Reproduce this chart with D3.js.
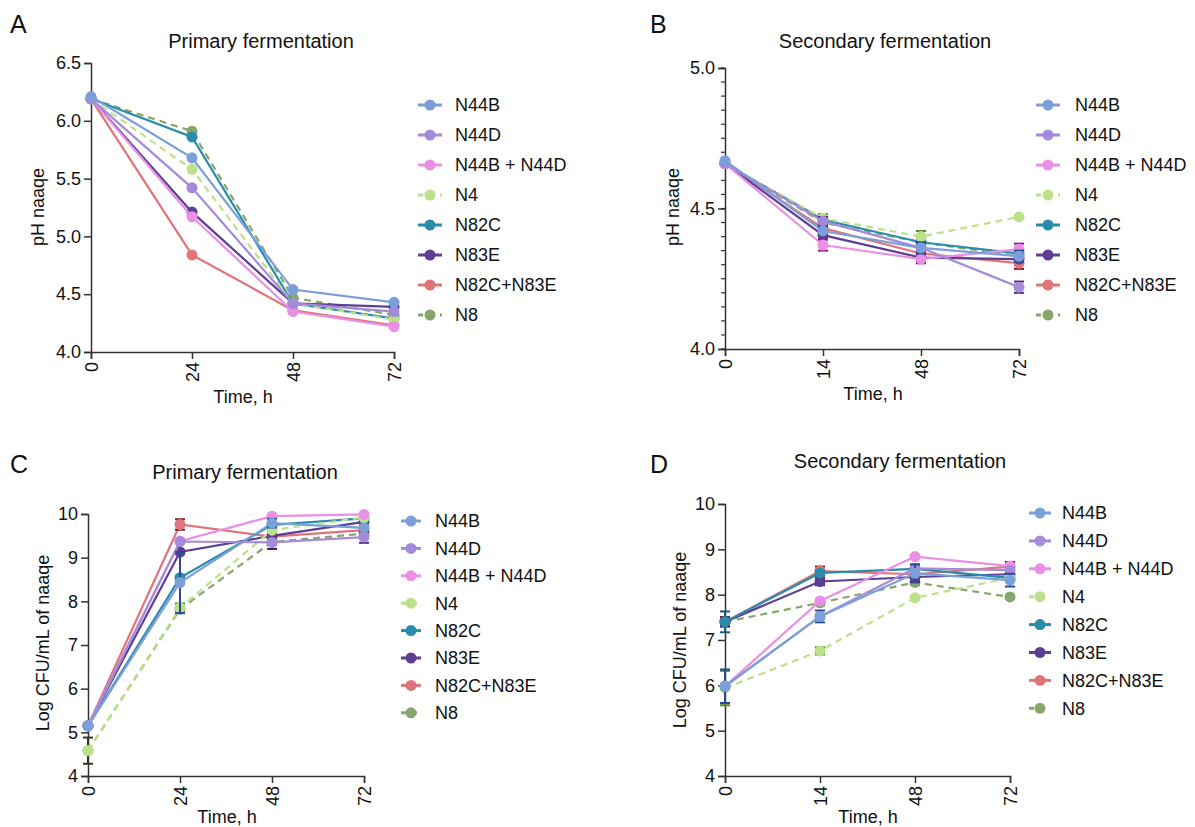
<!DOCTYPE html>
<html>
<head>
<meta charset="utf-8">
<script src="https://cdn.jsdelivr.net/npm/d3@7"></script>
<style>
body { margin: 0; background: #fff; }
text { font-family: "Liberation Sans", Arial, sans-serif; fill: #111; }
</style>
</head>
<body>
<div id="chart"></div>
<script>

// ---- data ----
const series = ['N44B', 'N44D', 'N44B + N44D', 'N4', 'N82C', 'N83E', 'N82C+N83E', 'N8']
const lineColor = ['#7b9fd8', '#a48bd9', '#e98fe6', '#bde08a', '#2b8bab', '#5c3f93', '#e07479', '#87a66b']
const errColor = ['#2a4b94', '#4a2a8c', '#8e1a8c', '#4f8c2a', '#1a5a7a', '#3a1a6a', '#8c1a2a', '#333322']
const isDashed = [false, false, false, true, false, false, false, true]

const hoursPrimary = ['0', '24', '48', '72']
const hoursSecondary = ['0', '14', '48', '72']

const phPrimary = [
    [6.21, 5.68, 4.54, 4.43],
    [6.19, 5.42, 4.42, 4.35],
    [6.19, 5.17, 4.35, 4.22],
    [6.19, 5.58, 4.42, 4.28],
    [6.19, 5.86, 4.42, 4.29],
    [6.19, 5.21, 4.42, 4.39],
    [6.19, 4.84, 4.36, 4.23],
    [6.19, 5.91, 4.47, 4.32]
]
const phPrimaryErr = [
    [0, 0, 0, 0], [0, 0, 0, 0], [0, 0, 0, 0], [0, 0, 0, 0],
    [0, 0, 0, 0], [0, 0, 0, 0], [0, 0, 0, 0], [0, 0, 0, 0]
]

const phSecondary = [
    [4.67, 4.42, 4.36, 4.33],
    [4.66, 4.455, 4.36, 4.22],
    [4.66, 4.37, 4.32, 4.355],
    [4.66, 4.465, 4.40, 4.47],
    [4.66, 4.46, 4.38, 4.34],
    [4.66, 4.405, 4.325, 4.32],
    [4.66, 4.43, 4.34, 4.305],
    [4.66, 4.45, 4.38, 4.33]
]
const phSecondaryErr = [
    [0, 0.015, 0.02, 0.02],
    [0, 0.015, 0.01, 0.02],
    [0, 0.02, 0.015, 0.02],
    [0, 0.015, 0.02, 0],
    [0, 0.01, 0.01, 0.015],
    [0, 0.015, 0.015, 0.01],
    [0, 0.01, 0.01, 0.02],
    [0, 0.01, 0.01, 0.01]
]

const cfuPrimary = [
    [5.15, 8.43, 9.79, 9.68],
    [5.15, 9.37, 9.35, 9.47],
    [5.15, 9.38, 9.95, 9.99],
    [4.58, 7.85, 9.63, 9.92],
    [5.15, 8.54, 9.75, 9.90],
    [5.15, 9.13, 9.50, 9.82],
    [5.15, 9.76, 9.48, 9.63],
    [4.58, 7.82, 9.36, 9.55]
]
const cfuPrimaryErr = [
    [0, 0.7, 0.1, 0.05],
    [0, 0.03, 0.05, 0.13],
    [0, 0.02, 0.02, 0.02],
    [0, 0.1, 0.05, 0.03],
    [0, 0.05, 0.05, 0.05],
    [0, 0.05, 0.3, 0.1],
    [0, 0.12, 0.05, 0.05],
    [0.3, 0.05, 0.05, 0.05]
]

const cfuSecondary = [
    [5.98, 7.52, 8.47, 8.32],
    [5.98, 7.52, 8.58, 8.54],
    [5.98, 7.86, 8.84, 8.63],
    [5.94, 6.76, 7.93, 8.37],
    [7.40, 8.48, 8.57, 8.37],
    [7.40, 8.29, 8.39, 8.45],
    [7.40, 8.52, 8.45, 8.62],
    [7.40, 7.82, 8.27, 7.95]
]
const cfuSecondaryErr = [
    [0.37, 0.13, 0.2, 0.14],
    [0.05, 0.05, 0.05, 0.05],
    [0.02, 0.02, 0.02, 0.05],
    [0.38, 0.08, 0.03, 0.03],
    [0.23, 0.05, 0.05, 0.05],
    [0.1, 0.08, 0.1, 0.1],
    [0.1, 0.1, 0.05, 0.1],
    [0.05, 0.05, 0.05, 0.03]
]

// ---- layout ----
const width = 1195
const height = 827

const svg = d3.select('#chart')
    .append('svg')
    .attr('width', width)
    .attr('height', height)

const panels = [
    { letter: 'A', lx: 10, ly: 33, title: 'Primary fermentation', tx: 261, ty: 48,
      hours: hoursPrimary, values: phPrimary, errs: phPrimaryErr,
      x0: 91, x1: 394, y0: 352, y1: 63, dom: [4, 6.5], ticks: d3.range(4, 6.51, 0.5), fmt: '.1f', minor: null,
      ylab: 'pH naaqe', ylx: 38, yly: 207, xlx: 243, xly: 403,
      legX: 418, legY: 105, legStep: 30, legLen: 24, legText: 455 },
    { letter: 'B', lx: 650, ly: 33, title: 'Secondary fermentation', tx: 885, ty: 48,
      hours: hoursSecondary, values: phSecondary, errs: phSecondaryErr,
      x0: 725, x1: 1019, y0: 349, y1: 68, dom: [4, 5], ticks: [4, 4.5, 5], fmt: '.1f', minor: d3.range(4, 5.001, 0.05),
      ylab: 'pH naaqe', ylx: 673, yly: 207, xlx: 873, xly: 400,
      legX: 1036, legY: 105, legStep: 30, legLen: 24, legText: 1075 },
    { letter: 'C', lx: 10, ly: 473, title: 'Primary fermentation', tx: 245, ty: 479,
      hours: hoursPrimary, values: cfuPrimary, errs: cfuPrimaryErr,
      x0: 88, x1: 364, y0: 776, y1: 514, dom: [4, 10], ticks: d3.range(4, 11, 1), fmt: 'd', minor: null,
      ylab: 'Log CFU/mL of naaqe', ylx: 43, yly: 643, xlx: 227, xly: 823,
      legX: 401, legY: 521, legStep: 27.4, legLen: 20, legText: 435 },
    { letter: 'D', lx: 650, ly: 473, title: 'Secondary fermentation', tx: 900, ty: 468,
      hours: hoursSecondary, values: cfuSecondary, errs: cfuSecondaryErr,
      x0: 725, x1: 1010, y0: 776, y1: 504, dom: [4, 10], ticks: d3.range(4, 11, 1), fmt: 'd', minor: null,
      ylab: 'Log CFU/mL of naaqe', ylx: 680, yly: 640, xlx: 868, xly: 823,
      legX: 1029, legY: 513, legStep: 27.9, legLen: 22, legText: 1062 }
]

const drawPanel = (p) => {
    const g = svg.append('g')

    const xScale = d3.scalePoint()
        .domain(p.hours)
        .range([p.x0, p.x1])

    const yScale = d3.scaleLinear()
        .domain(p.dom)
        .range([p.y0, p.y1])

    // letter + title
    g.append('text')
        .attr('x', p.lx).attr('y', p.ly)
        .style('font-size', '25px')
        .text(p.letter)
    g.append('text')
        .attr('x', p.tx).attr('y', p.ty)
        .attr('text-anchor', 'middle')
        .style('font-size', '20px')
        .text(p.title)

    // y axis
    const yAxis = d3.axisLeft(yScale)
        .tickValues(p.ticks)
        .tickFormat(d3.format(p.fmt))
        .tickSize(7)
        .tickPadding(3)
    const ya = g.append('g')
        .attr('transform', `translate(${p.x0},0)`)
        .call(yAxis)
    ya.selectAll('text').style('font-size', '18px').style('fill', '#111')

    if (p.minor) {
        g.append('g')
            .selectAll('line')
            .data(p.minor)
            .join('line')
            .attr('x1', p.x0 - 4).attr('x2', p.x0)
            .attr('y1', d => yScale(d)).attr('y2', d => yScale(d))
            .attr('stroke', '#333').attr('stroke-width', 1.2)
    }

    // x axis
    const xAxis = d3.axisBottom(xScale)
        .tickSize(7)
        .tickPadding(3)
    const xa = g.append('g')
        .attr('transform', `translate(0,${p.y0})`)
        .call(xAxis)
    xa.selectAll('text')
        .style('font-size', '18px')
        .style('fill', '#111')
        .attr('text-anchor', 'end')
        .attr('transform', 'rotate(-90)')
        .attr('x', -10)
        .attr('y', 0)
        .attr('dy', '0.35em')

    g.selectAll('.domain').attr('stroke', '#333').attr('stroke-width', 1.5)
    g.selectAll('.tick line').attr('stroke', '#333').attr('stroke-width', 1.5)

    // axis titles
    g.append('text')
        .attr('transform', `translate(${p.ylx},${p.yly}) rotate(-90)`)
        .attr('text-anchor', 'middle')
        .attr('dy', '0.35em')
        .style('font-size', '18px')
        .text(p.ylab)
    g.append('text')
        .attr('x', p.xlx).attr('y', p.xly)
        .attr('text-anchor', 'middle')
        .style('font-size', '18px')
        .text('Time, h')

    const line = d3.line()
        .x((d, i) => xScale(p.hours[i]))
        .y(d => yScale(d))

    // draw last series first so N44B ends up on top
    const order = d3.range(series.length).reverse()
    order.forEach((s) => {
        const sg = g.append('g')
        sg.append('path')
            .datum(p.values[s])
            .attr('d', line)
            .attr('fill', 'none')
            .attr('stroke', lineColor[s])
            .attr('stroke-width', 2.2)
            .attr('stroke-dasharray', isDashed[s] ? '7,5' : null)

        const pts = p.values[s].map((v, i) => ({ h: p.hours[i], v: v, e: p.errs[s][i] }))
            .filter(d => d.e > 0)
        const eb = sg.selectAll('g.err')
            .data(pts)
            .join('g')
            .attr('class', 'err')
            .attr('stroke', errColor[s])
            .attr('stroke-width', 2)
        eb.append('line')
            .attr('x1', d => xScale(d.h)).attr('x2', d => xScale(d.h))
            .attr('y1', d => yScale(d.v - d.e)).attr('y2', d => yScale(d.v + d.e))
        eb.append('line')
            .attr('x1', d => xScale(d.h) - 5).attr('x2', d => xScale(d.h) + 5)
            .attr('y1', d => yScale(d.v - d.e)).attr('y2', d => yScale(d.v - d.e))
        eb.append('line')
            .attr('x1', d => xScale(d.h) - 5).attr('x2', d => xScale(d.h) + 5)
            .attr('y1', d => yScale(d.v + d.e)).attr('y2', d => yScale(d.v + d.e))

        sg.selectAll('circle')
            .data(p.values[s])
            .join('circle')
            .attr('cx', (d, i) => xScale(p.hours[i]))
            .attr('cy', d => yScale(d))
            .attr('r', 5.5)
            .attr('fill', lineColor[s])
    })

    // legend
    const leg = g.append('g')
        .selectAll('g')
        .data(series)
        .join('g')
        .attr('transform', (d, i) => `translate(${p.legX},${p.legY + i * p.legStep})`)
    leg.append('line')
        .attr('x1', 0).attr('x2', p.legLen)
        .attr('stroke', (d, i) => lineColor[i])
        .attr('stroke-width', 3)
        .attr('stroke-dasharray', (d, i) => isDashed[i] ? '5,6' : null)
    leg.append('circle')
        .attr('cx', p.legLen / 2)
        .attr('r', 5.5)
        .attr('fill', (d, i) => lineColor[i])
    leg.append('text')
        .attr('x', p.legText - p.legX)
        .attr('dy', '0.35em')
        .style('font-size', '18px')
        .text(d => d)
}

panels.forEach(drawPanel)

</script>
</body>
</html>
